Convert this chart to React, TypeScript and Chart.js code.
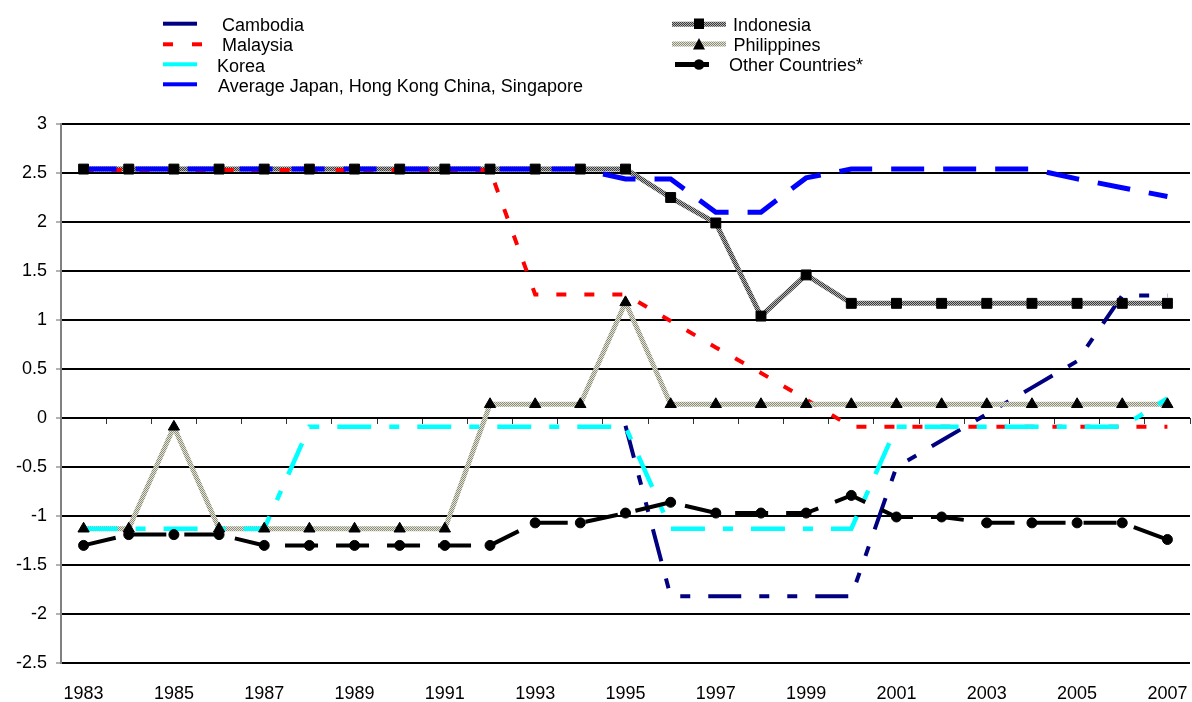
import React, { useEffect, useRef } from 'react';
import { Chart, registerables } from 'chart.js';

Chart.register(...registerables);

const FONT = '"Liberation Sans", Arial, Helvetica, sans-serif';

const years = [
  '1983', '1984', '1985', '1986', '1987', '1988', '1989', '1990', '1991', '1992',
  '1993', '1994', '1995', '1996', '1997', '1998', '1999', '2000', '2001', '2002',
  '2003', '2004', '2005', '2006', '2007',
];

const cambodia = [
  null, null, null, null, null, null, null, null, null, null, null, null,
  -0.08, -1.82, -1.82, -1.82, -1.82, -1.82, -0.5, -0.23, 0.04, 0.31, 0.58, 1.25, 1.25,
];
const malaysia = [
  2.53, 2.53, 2.53, 2.53, 2.53, 2.53, 2.53, 2.53, 2.53, 2.53,
  1.26, 1.26, 1.26, 0.99, 0.72, 0.46, 0.19, -0.09, -0.09, -0.09, -0.09, -0.09, -0.09, -0.09, -0.09,
];
const korea = [
  -1.13, -1.13, -1.13, -1.13, -1.13, -0.09, -0.09, -0.09, -0.09, -0.09, -0.09, -0.09, -0.09,
  -1.13, -1.13, -1.13, -1.13, -1.13, -0.09, -0.09, -0.09, -0.09, -0.09, -0.09, 0.2,
];
const averageJHS = [
  2.54, 2.54, 2.54, 2.54, 2.54, 2.54, 2.54, 2.54, 2.54, 2.54, 2.54, 2.54,
  2.44, 2.44, 2.1, 2.1, 2.45, 2.54, 2.54, 2.54, 2.54, 2.54, 2.44, 2.35, 2.26,
];
const indonesia = [
  2.54, 2.54, 2.54, 2.54, 2.54, 2.54, 2.54, 2.54, 2.54, 2.54, 2.54, 2.54, 2.54,
  2.25, 1.99, 1.04, 1.46, 1.17, 1.17, 1.17, 1.17, 1.17, 1.17, 1.17, 1.17,
];
const philippines = [
  -1.13, -1.13, -0.09, -1.13, -1.13, -1.13, -1.13, -1.13, -1.13,
  0.14, 0.14, 0.14, 1.18, 0.14, 0.14, 0.14, 0.14, 0.14, 0.14, 0.14, 0.14, 0.14, 0.14, 0.14, 0.14,
];
const otherCountries = [
  -1.3, -1.19, -1.19, -1.19, -1.3, -1.3, -1.3, -1.3, -1.3, -1.3,
  -1.07, -1.07, -0.97, -0.86, -0.97, -0.97, -0.97, -0.79, -1.01, -1.01, -1.07, -1.07, -1.07, -1.07, -1.24,
];

const yMin = -2.5;
const yMax = 3;
const yStep = 0.5;

function makePattern(base: string, dot: string): CanvasPattern | string {
  const c = document.createElement('canvas');
  c.width = 2;
  c.height = 2;
  const g = c.getContext('2d');
  if (!g) return base;
  g.fillStyle = base;
  g.fillRect(0, 0, 2, 2);
  g.fillStyle = dot;
  g.fillRect(0, 0, 1, 1);
  g.fillRect(1, 1, 1, 1);
  const p = g.createPattern(c, 'repeat');
  return p || base;
}

const legendText: React.CSSProperties = {
  position: 'absolute',
  fontFamily: FONT,
  fontSize: 18,
  lineHeight: '20px',
  color: '#000',
  whiteSpace: 'nowrap',
};

export default function App() {
  const canvasRef = useRef<HTMLCanvasElement | null>(null);

  useEffect(() => {
    const canvas = canvasRef.current;
    if (!canvas) return;
    const indPattern = makePattern('#b4b4b4', '#3a3a3a');
    const phiPattern = makePattern('#e4e4d4', '#8c8c7c');

    const chart = new Chart(canvas, {
      type: 'line',
      data: {
        labels: years,
        datasets: [
          {
            label: 'Cambodia',
            data: cambodia,
            borderColor: '#000080',
            borderWidth: 4,
            borderDash: [33, 18, 10, 18, 10, 18],
            pointRadius: 0,
            order: 10,
          },
          {
            label: 'Indonesia',
            data: indonesia,
            borderColor: indPattern as any,
            borderWidth: 5,
            pointRadius: 0,
            order: 9,
          },
          {
            label: 'Malaysia',
            data: malaysia,
            borderColor: '#ff0000',
            borderWidth: 4,
            borderDash: [10, 18],
            pointRadius: 0,
            order: 8,
          },
          {
            label: 'Philippines',
            data: philippines,
            borderColor: phiPattern as any,
            borderWidth: 5,
            pointRadius: 0,
            order: 7,
          },
          {
            label: 'Korea',
            data: korea,
            borderColor: '#00ffff',
            borderWidth: 4.5,
            borderDash: [34, 18, 10, 18],
            pointRadius: 0,
            order: 6,
          },
          {
            label: 'Other Countries*',
            data: otherCountries,
            borderColor: '#000000',
            borderWidth: 4,
            borderDash: [33, 18],
            pointStyle: 'circle',
            pointRadius: 5,
            pointBackgroundColor: '#000',
            pointBorderColor: '#000',
            pointBorderWidth: 1,
            order: 5,
          },
          {
            label: 'Average Japan, Hong Kong China, Singapore',
            data: averageJHS,
            borderColor: '#0000ff',
            borderWidth: 5,
            borderDash: [33, 19],
            pointRadius: 0,
            order: 4,
          },
          {
            label: 'Indonesia markers',
            data: indonesia,
            showLine: false,
            pointStyle: 'rect',
            pointRadius: 7,
            pointBackgroundColor: '#000',
            pointBorderColor: '#000',
            pointBorderWidth: 1,
            order: 2,
          },
          {
            label: 'Philippines markers',
            data: philippines,
            showLine: false,
            pointStyle: 'triangle',
            pointRadius: 6.5,
            pointBackgroundColor: '#000',
            pointBorderColor: '#000',
            pointBorderWidth: 1,
            order: 1,
          },
        ],
      },
      options: {
        animation: false,
        responsive: false,
        maintainAspectRatio: false,
        events: [],
        layout: { autoPadding: false, padding: { top: 124, right: 2, left: 0, bottom: 0 } },
        elements: { line: { tension: 0 } },
        plugins: {
          legend: { display: false },
          tooltip: { enabled: false },
          title: { display: false },
        },
        scales: {
          x: {
            type: 'category',
            position: 'bottom',
            offset: true,
            grid: { display: false, drawTicks: false },
            border: { display: false },
            ticks: {
              autoSkip: false,
              maxRotation: 0,
              padding: 20,
              color: '#000',
              font: { family: FONT, size: 18 },
              callback: (_v: any, i: number) => (i % 2 === 0 ? years[i] : ''),
            },
            afterFit: (s: any) => {
              s.height = 39;
              s.paddingLeft = 0;
              s.paddingRight = 0;
            },
          },
          xz: {
            type: 'category',
            position: { y: 0 } as any,
            offset: true,
            grid: {
              offset: true,
              drawOnChartArea: false,
              drawTicks: true,
              tickLength: 6,
              color: '#333',
              lineWidth: 1,
            },
            border: { display: false },
            ticks: { display: false },
            afterFit: (s: any) => {
              s.paddingLeft = 0;
              s.paddingRight = 0;
            },
          },
          y: {
            min: yMin,
            max: yMax,
            ticks: {
              stepSize: yStep,
              color: '#000',
              padding: 9,
              font: { family: FONT, size: 18 },
              callback: (v: any) => String(Number(v)),
            },
            grid: {
              color: '#000',
              lineWidth: 2,
              tickColor: '#666',
              tickLength: 5,
              tickWidth: 1,
            },
            border: { color: '#808080', width: 2 },
            afterFit: (s: any) => {
              s.width = 61;
            },
          },
        },
      } as any,
    });
    return () => {
      chart.destroy();
    };
  }, []);

  return (
    <div
      style={{
        position: 'absolute',
        left: 0,
        top: 0,
        width: 1192,
        height: 702,
        background: '#fff',
        overflow: 'hidden',
      }}
    >
      <canvas
        ref={canvasRef}
        width={1192}
        height={702}
        style={{ position: 'absolute', left: 0, top: 0, width: 1192, height: 702 }}
      />
      <svg
        width={1192}
        height={100}
        style={{ position: 'absolute', left: 0, top: 0 }}
      >
        <defs>
          <pattern id="pInd" width="2" height="2" patternUnits="userSpaceOnUse">
            <rect width="2" height="2" fill="#b4b4b4" />
            <rect width="1" height="1" fill="#3a3a3a" />
            <rect x="1" y="1" width="1" height="1" fill="#3a3a3a" />
          </pattern>
          <pattern id="pPhi" width="2" height="2" patternUnits="userSpaceOnUse">
            <rect width="2" height="2" fill="#e4e4d4" />
            <rect width="1" height="1" fill="#8c8c7c" />
            <rect x="1" y="1" width="1" height="1" fill="#8c8c7c" />
          </pattern>
        </defs>
        <rect x={163} y={21.7} width={34} height={4} fill="#000080" />
        <rect x={163} y={42.3} width={10} height={4} fill="#ff0000" />
        <rect x={192} y={42.3} width={10} height={4} fill="#ff0000" />
        <rect x={163} y={62.3} width={34} height={4} fill="#00ffff" />
        <rect x={163} y={82.3} width={34} height={4} fill="#0000ff" />

        <rect x={672} y={21.7} width={54} height={5} fill="url(#pInd)" />
        <rect x={694} y={18.5} width={10} height={10.5} fill="#000" />
        <rect x={672} y={41.5} width={54} height={5} fill="url(#pPhi)" />
        <polygon points="699,38 693,49.5 705,49.5" fill="#000" />
        <rect x={675} y={62} width={34} height={5} fill="#000" />
        <circle cx={699} cy={64.5} r={5.3} fill="#000" />
      </svg>
      <span style={{ ...legendText, left: 222, top: 14.7 }}>Cambodia</span>
      <span style={{ ...legendText, left: 222, top: 35.2 }}>Malaysia</span>
      <span style={{ ...legendText, left: 217, top: 56.2 }}>Korea</span>
      <span style={{ ...legendText, left: 218, top: 76.2 }}>
        Average Japan, Hong Kong China, Singapore
      </span>
      <span style={{ ...legendText, left: 733, top: 14.7 }}>Indonesia</span>
      <span style={{ ...legendText, left: 733.5, top: 35.2 }}>Philippines</span>
      <span style={{ ...legendText, left: 729, top: 55.2 }}>Other Countries*</span>
    </div>
  );
}
